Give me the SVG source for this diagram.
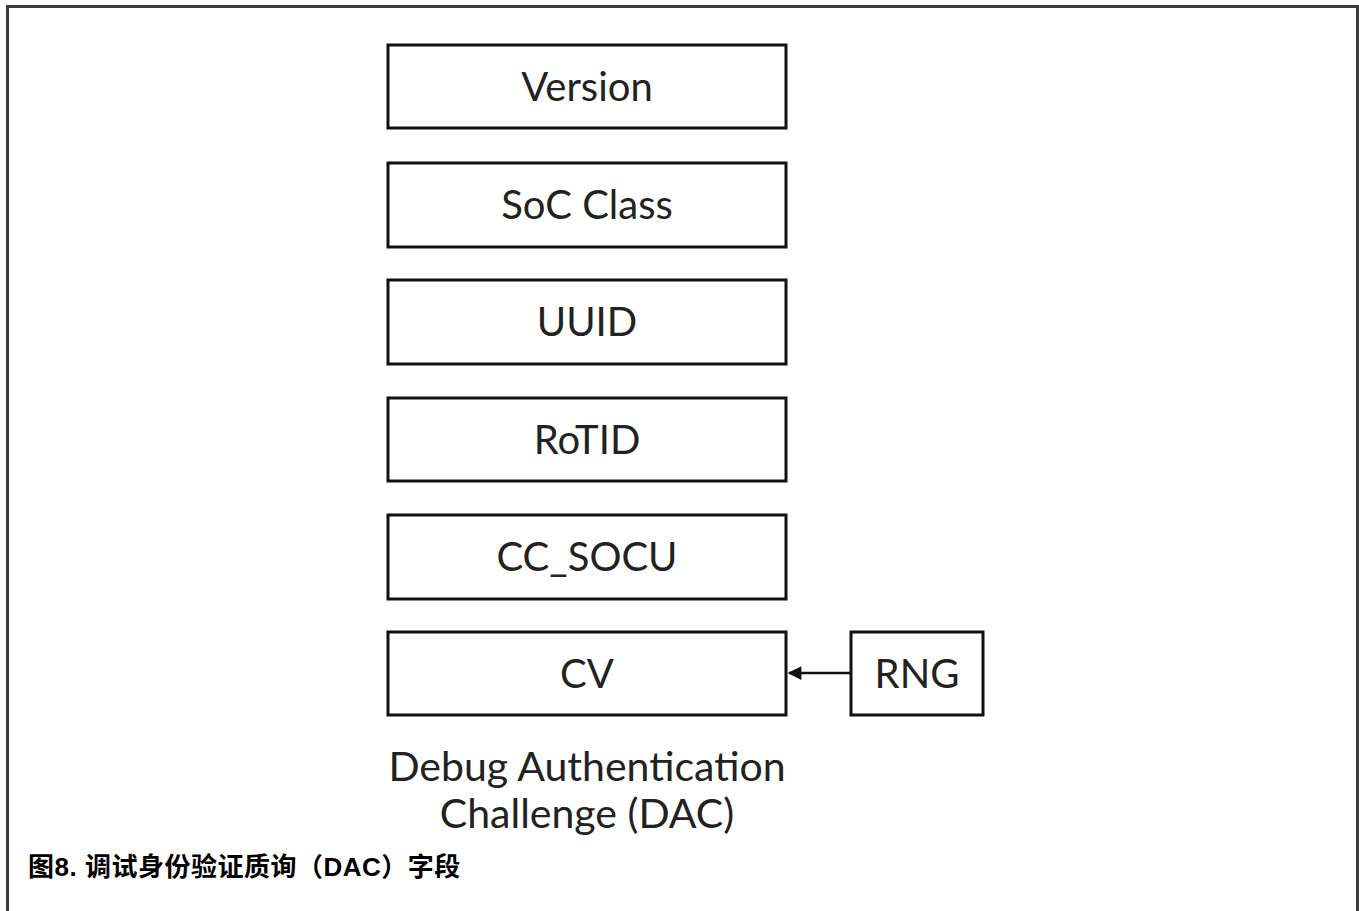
<svg xmlns="http://www.w3.org/2000/svg" width="1359" height="911" viewBox="0 0 1359 911">
  <style>
    .frame { fill: none; stroke: #3c3c3c; stroke-width: 3; }
    .box { fill: #ffffff; stroke: #111111; stroke-width: 3; }
    .label { font-family: Lato, "Liberation Sans", sans-serif; font-size: 40px; fill: #222222; text-anchor: middle; }
    .title { font-family: Lato, "Liberation Sans", sans-serif; font-size: 41px; fill: #222222; text-anchor: middle; }
    .caption { font-family: "Liberation Sans", "Noto Sans CJK SC", sans-serif; font-size: 26px; font-weight: bold; letter-spacing: 0.5px; fill: #000000; }
    .link { stroke: #111111; stroke-width: 2.5; fill: none; }
  </style>
  <defs>
    <marker id="arrow" viewBox="0 0 10 10" refX="9" refY="5" markerWidth="6" markerHeight="5.5" orient="auto" markerUnits="strokeWidth">
      <path d="M0,0 L10,5 L0,10 z" fill="#111111"/>
    </marker>
  </defs>

  <rect width="1359" height="911" fill="#ffffff"/>

  <!-- outer frame, open at the bottom -->
  <path class="frame" d="M7.5,911 V6.5 H1357.5 V911"/>

  <g id="node-version">
    <rect class="box" x="388" y="45" width="398" height="83"/>
    <text class="label" x="587" y="101">Version</text>
  </g>
  <g id="node-soc-class">
    <rect class="box" x="388" y="163" width="398" height="84"/>
    <text class="label" x="587" y="219">SoC Class</text>
  </g>
  <g id="node-uuid">
    <rect class="box" x="388" y="280" width="398" height="84"/>
    <text class="label" x="587" y="336">UUID</text>
  </g>
  <g id="node-rotid">
    <rect class="box" x="388" y="398" width="398" height="83"/>
    <text class="label" x="587" y="454">RoTID</text>
  </g>
  <g id="node-cc-socu">
    <rect class="box" x="388" y="515" width="398" height="84"/>
    <text class="label" x="587" y="571">CC_SOCU</text>
  </g>
  <g id="node-cv">
    <rect class="box" x="388" y="632" width="398" height="83"/>
    <text class="label" x="587" y="688">CV</text>
  </g>
  <g id="node-rng">
    <rect class="box" x="851" y="632" width="132" height="83"/>
    <text class="label" x="917" y="688">RNG</text>
  </g>

  <g id="connectors">
    <line class="link" x1="851" y1="673" x2="789" y2="673" marker-end="url(#arrow)"/>
  </g>

  <g id="title">
    <text class="title" x="587" y="781">Debug Authentication</text>
    <text class="title" x="587" y="828">Challenge (DAC)</text>
  </g>

  <text class="caption" x="28" y="876">图8. 调试身份验证质询（DAC）字段</text>
</svg>
